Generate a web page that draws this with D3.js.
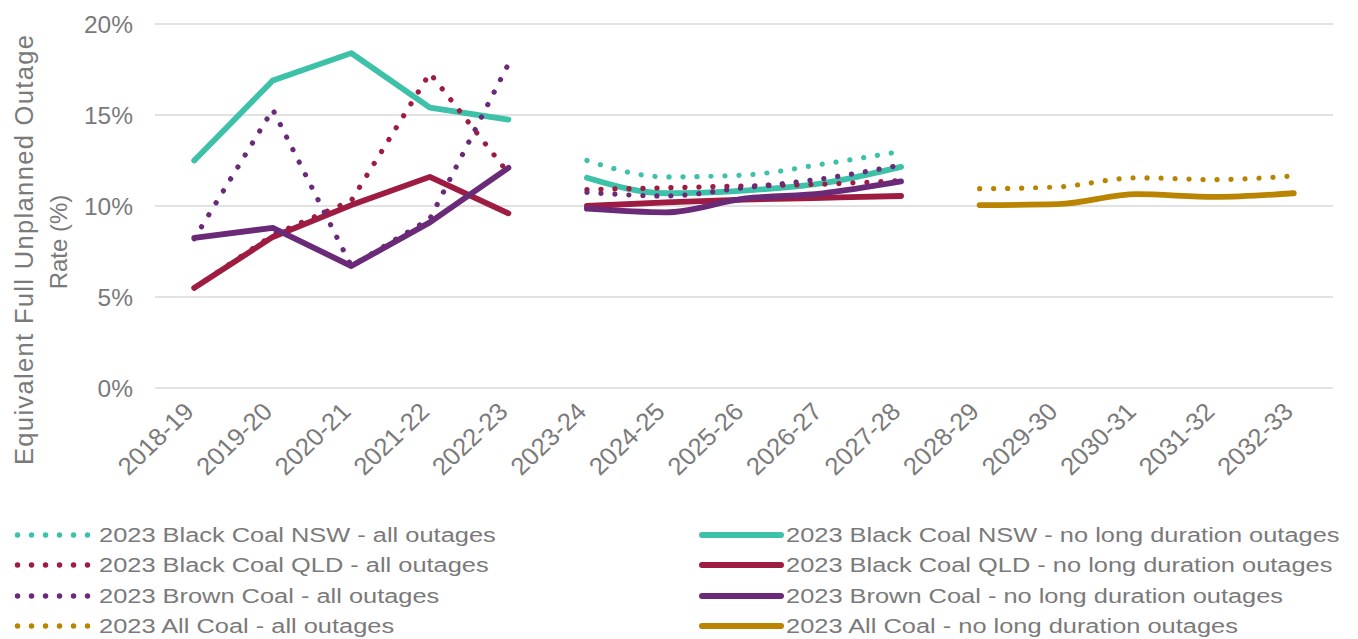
<!DOCTYPE html>
<html>
<head>
<meta charset="utf-8">
<script src="https://cdn.jsdelivr.net/npm/d3@7"></script>
<style>
  html, body { margin: 0; padding: 0; background: #ffffff; }
  svg { display: block; font-family: "Liberation Sans", Arial, sans-serif; }
</style>
</head>
<body>
<svg id="chart" width="1358" height="639"></svg>
<script>
// ---------- data ----------
const categories = ["2018-19","2019-20","2020-21","2021-22","2022-23","2023-24","2024-25","2025-26","2026-27","2027-28","2028-29","2029-30","2030-31","2031-32","2032-33"];
const yTicks = [0, 0.05, 0.10, 0.15, 0.20];

const nswAll      = [12.5, 16.9, 18.4, 15.4, 14.75, 12.5, 11.6, 11.7, 12.3, 13.0, null, null, null, null, null];
const nswNoLong   = [12.5, 16.9, 18.4, 15.4, 14.75, 11.55, 10.7, 10.85, 11.25, 12.15, null, null, null, null, null];
const qldAll      = [5.5, 8.4, 10.3, 17.3, 11.8, 10.9, 11.0, 11.1, 11.2, 11.4, null, null, null, null, null];
const qldNoLong   = [5.5, 8.3, 10.05, 11.6, 9.6, 10.0, 10.2, 10.35, 10.45, 10.55, null, null, null, null, null];
const brownAll    = [8.2, 15.3, 6.7, 9.3, 17.8, 10.75, 10.55, 11.0, 11.5, 12.25, null, null, null, null, null];
const brownNoLong = [8.25, 8.8, 6.7, 9.1, 12.1, 9.85, 9.65, 10.4, 10.7, 11.35, null, null, null, null, null];
const allCoalAll    = [null, null, null, null, null, null, null, null, null, null, 10.95, 11.05, 11.55, 11.45, 11.65];
const allCoalNoLong = [null, null, null, null, null, null, null, null, null, null, 10.05, 10.1, 10.65, 10.5, 10.7];

const seriesNames = [
  "2023 Black Coal NSW - all outages",
  "2023 Black Coal NSW - no long duration outages",
  "2023 Black Coal QLD - all outages",
  "2023 Black Coal QLD - no long duration outages",
  "2023 Brown Coal - all outages",
  "2023 Brown Coal - no long duration outages",
  "2023 All Coal - all outages",
  "2023 All Coal - no long duration outages"
];
const seriesValues = [nswAll, nswNoLong, qldAll, qldNoLong, brownAll, brownNoLong, allCoalAll, allCoalNoLong];
const seriesColors = ["#3EC1A9", "#3EC1A9", "#9E1C42", "#9E1C42", "#6B2A78", "#6B2A78", "#B98400", "#B98400"];
const seriesDotted = [true, false, true, false, true, false, true, false];
const firstProjectionIndex = 5;

// ---------- layout ----------
const svg = d3.select("#chart");
const plot = { left: 155, right: 1333, top: 24, bottom: 388 };
const textColor = "#7a7a7a";
const fontSize = 24.5;

const x = d3.scaleBand().domain(categories).range([plot.left, plot.right]).padding(0);
const xc = c => x(c) + x.bandwidth() / 2;
const y = d3.scaleLinear().domain([0, 0.2]).range([plot.bottom, plot.top]);

// gridlines
svg.append("g").selectAll("line").data(yTicks).join("line")
  .attr("x1", plot.left).attr("x2", plot.right)
  .attr("y1", d => y(d)).attr("y2", d => y(d))
  .attr("stroke", "#d9d9d9").attr("stroke-width", 1.6);

// y axis
const yAxis = d3.axisLeft(y).tickValues(yTicks).tickFormat(d3.format(".0%")).tickSize(0).tickPadding(0);
const gy = svg.append("g").attr("transform", `translate(${133},0)`).call(yAxis);
gy.select(".domain").remove();
gy.selectAll("text").attr("fill", textColor).style("font-size", fontSize + "px")
  .style("font-family", "'Liberation Sans', Arial, sans-serif").attr("dy", "0.35em");

// x axis
const xAxis = d3.axisBottom(x).tickSize(0).tickPadding(0);
const gx = svg.append("g").attr("transform", `translate(0,${plot.bottom})`).call(xAxis);
gx.select(".domain").remove();
gx.selectAll(".tick text")
  .attr("fill", textColor).style("font-size", fontSize + "px")
  .style("font-family", "'Liberation Sans', Arial, sans-serif")
  .attr("text-anchor", "end")
  .attr("x", 0).attr("y", 0).attr("dy", 0)
  .attr("transform", "translate(1,25) scale(1.05,1) rotate(-45)");

// y title
const yTitle = svg.append("text").attr("fill", textColor).style("font-size", "25.5px")
  .attr("text-anchor", "middle").attr("transform", "translate(0,250) rotate(-90)");
yTitle.append("tspan").attr("x", 0).attr("y", 33).attr("textLength", 430).attr("lengthAdjust", "spacing")
  .text("Equivalent Full Unplanned Outage");
yTitle.append("tspan").attr("x", 8).attr("y", 67).style("font-size", "24px").text("Rate (%)");

// lines
function runsOf(vals) {
  const runs = [];
  let cur = [];
  vals.forEach((v, i) => {
    const breakHere = v == null || (i === firstProjectionIndex);
    if (breakHere && cur.length) { runs.push(cur); cur = []; }
    if (v != null) cur.push({ i, v });
  });
  if (cur.length) runs.push(cur);
  return runs;
}

const lineLinear = d3.line().x(d => xc(categories[d.i])).y(d => y(d.v / 100)).curve(d3.curveLinear);
const lineSmooth = d3.line().x(d => xc(categories[d.i])).y(d => y(d.v / 100)).curve(d3.curveMonotoneX);

const gLines = svg.append("g");
seriesValues.forEach((vals, s) => {
  runsOf(vals).forEach(run => {
    const gen = run[0].i >= firstProjectionIndex ? lineSmooth : lineLinear;
    gLines.append("path")
      .attr("d", gen(run))
      .attr("fill", "none")
      .attr("stroke", seriesColors[s])
      .attr("stroke-width", seriesDotted[s] ? 5.2 : 5.8)
      .attr("stroke-linecap", "round")
      .attr("stroke-linejoin", "round")
      .attr("stroke-dasharray", seriesDotted[s] ? "0.1 13.9" : null);
  });
});

// legend
const legendCols = [{ x1: 17.5, x2: 87.5, tx: 99 }, { x1: 702, x2: 781, tx: 786 }];
const legendRows = [535, 565, 596, 626];
seriesNames.forEach((name, s) => {
  const col = legendCols[s % 2];
  const ry = legendRows[Math.floor(s / 2)];
  const g = svg.append("g");
  g.append("line")
    .attr("x1", col.x1).attr("x2", col.x2).attr("y1", ry).attr("y2", ry)
    .attr("stroke", seriesColors[s])
    .attr("stroke-width", seriesDotted[s] ? 5.4 : 6)
    .attr("stroke-linecap", "round")
    .attr("stroke-dasharray", seriesDotted[s] ? "0.1 13.9" : null);
  g.append("text")
    .attr("transform", `translate(${col.tx},${ry}) scale(1.27,1)`)
    .attr("x", 0).attr("y", 0).attr("dy", "0.36em")
    .attr("fill", textColor).style("font-size", "20px").text(name);
});
</script>
</body>
</html>
